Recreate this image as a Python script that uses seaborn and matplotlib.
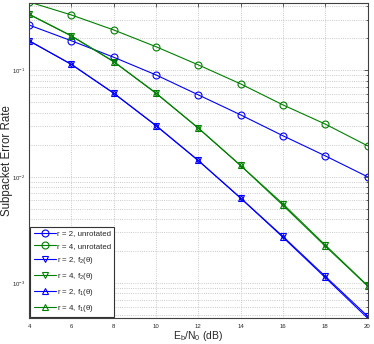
import numpy as np
import pandas as pd
import matplotlib
matplotlib.use('Agg')
import matplotlib.pyplot as plt
import seaborn as sns

# Eb/N0 points (dB)
snr = [4, 6, 8, 10, 12, 14, 16, 18, 20]

# subpacket error rate
r2_unrot = [0.267, 0.190, 0.133, 0.0907, 0.0589, 0.0382, 0.0243, 0.01574, 0.0100]
r4_unrot = [0.44, 0.332, 0.240, 0.167, 0.1127, 0.0747, 0.0474, 0.0313, 0.01955]
r2_f2 = [0.190, 0.114, 0.0611, 0.0303, 0.01422, 0.00631, 0.00275, 0.00116, 0.00049]
r4_f2 = [0.337, 0.211, 0.121, 0.0611, 0.0287, 0.01277, 0.00556, 0.00228, 0.00095]
r2_f1 = [0.190, 0.114, 0.0611, 0.0303, 0.01422, 0.00631, 0.00270, 0.00113, 0.00047]
r4_f1 = [0.337, 0.211, 0.121, 0.0611, 0.0287, 0.01277, 0.00540, 0.00223, 0.00094]

labels = ['r = 2, unrotated', 'r = 4, unrotated',
          r'r = 2, f$_\mathrm{2}$(θ)', r'r = 4, f$_\mathrm{2}$(θ)',
          r'r = 2, f$_\mathrm{1}$(θ)', r'r = 4, f$_\mathrm{1}$(θ)']
series = [r2_unrot, r4_unrot, r2_f2, r4_f2, r2_f1, r4_f1]
markers = ['o', 'o', 'v', 'v', '^', '^']
colors = ['#0000ff', '#008000'] * 3

sns.set_theme(style='white')
plt.rcParams['font.family'] = ['Liberation Sans', 'DejaVu Sans']
plt.rcParams['mathtext.fontset'] = 'custom'
plt.rcParams['mathtext.rm'] = 'Liberation Sans'
plt.rcParams['mathtext.it'] = 'Liberation Sans:italic'

fig = plt.figure(figsize=(3.74, 3.44), dpi=100)
ax = fig.add_axes([29 / 374, 1 - 318 / 344, 338.5 / 374, 315 / 344])

for vals, lab, m, c in zip(series, labels, markers, colors):
    df = pd.DataFrame({'snr': snr, 'ser': vals})
    sns.lineplot(data=df, x='snr', y='ser', ax=ax, color=c, marker=m,
                 markersize=5, markerfacecolor='none', markeredgecolor=c,
                 markeredgewidth=0.8, linewidth=0.8, label=lab)

ax.set_yscale('log')
ax.set_xlim(4, 20)
ax.set_ylim(4.7e-4, 0.43)
ax.set_xticks(snr)
ax.set_xticklabels([str(s) for s in snr])

ax.grid(which='major', axis='both', ls=':', color='0.72', lw=0.6)
ax.grid(which='minor', axis='y', ls=':', color='0.72', lw=0.6)
ax.tick_params(which='both', direction='in', top=True, right=True,
               labelsize=4.3, color='0.25', width=0.6, pad=4)
ax.tick_params(axis='y', which='major', pad=3)
ax.tick_params(which='major', length=3)
ax.tick_params(which='minor', length=1.8)
for sp in ax.spines.values():
    sp.set_color('0.25')
    sp.set_linewidth(0.8)

ax.set_xlabel(r'E$_\mathrm{b}$/N$_\mathrm{0}$ (dB)', fontsize=7.5)
ax.set_ylabel('Subpacket Error Rate', fontsize=8.3)
ax.xaxis.set_label_coords(0.5, -0.034)
ax.yaxis.set_label_coords(-0.048, 0.5)

leg = ax.legend(loc='lower left', bbox_to_anchor=(0.004, 0.004), fontsize=5.7,
                handlelength=2.8, handletextpad=0.15, labelspacing=0.62,
                borderpad=0.4, borderaxespad=0, fancybox=False, frameon=True)
leg.get_frame().set_edgecolor('0.2')
leg.get_frame().set_linewidth(0.8)
leg.get_frame().set_facecolor('white')
leg.get_frame().set_alpha(1)

fig.savefig('out.png', dpi=100)
